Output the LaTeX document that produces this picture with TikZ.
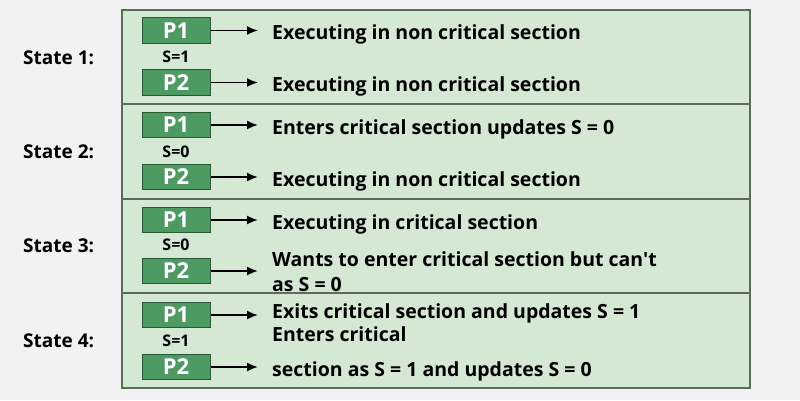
\documentclass[tikz,border=0pt]{standalone}
\usepackage{fontspec}
\setmainfont{Open Sans}[Ligatures=TeXOff]
\usetikzlibrary{arrows.meta}
\definecolor{pagebg}{HTML}{F2F2F2}
\definecolor{panelfill}{HTML}{D5E8D4}
\definecolor{panelline}{HTML}{5E6B5C}
\definecolor{procfill}{HTML}{4E9A63}
\definecolor{procline}{HTML}{2A5A35}
\tikzset{
  proc/.style={draw=procline,fill=procfill,text=white,line width=1pt,minimum width=68pt,minimum height=25.5pt,inner sep=0pt,font=\bfseries\fontsize{22}{24}\selectfont},
  sem/.style={inner sep=0pt,font=\bfseries\fontsize{16}{18}\selectfont},
  state/.style={anchor=west,inner sep=0pt,font=\bfseries\fontsize{19}{22}\selectfont},
  desc/.style={anchor=west,inner sep=0pt,text height=14pt,text depth=0pt,font=\bfseries\fontsize{19.5}{24}\selectfont},
  descm/.style={anchor=west,align=left,inner sep=0pt,font=\bfseries\fontsize{19.5}{#1}\selectfont},
  go/.style={-{Latex[length=11pt,width=9pt]},line width=1.8pt,shorten >=14pt}
}
\begin{document}
\begin{tikzpicture}[x=1pt,y=-1pt]
\fill[pagebg](0,0)rectangle(800,400);
\useasboundingbox(0,0)rectangle(800,400);
\draw[panelline,fill=panelfill,line width=2pt](122,10)rectangle(750,388);
\draw[panelline,line width=2pt](122,104)--(750,104);
\draw[panelline,line width=2pt](122,199)--(750,199);
\draw[panelline,line width=2pt](122,293)--(750,293);

\begin{scope}
\node[state](st1) at (23,57.5){State 1:};
\node[proc](p1a) at (176,30.5){P1};
\node[sem](sa) at (176,57){S=1};
\node[proc](p2a) at (176,82.5){P2};
\node[desc](d1a) at (272,32){Executing in non critical section};
\node[desc](d2a) at (272,84){Executing in non critical section};
\draw[go](p1a.east)--(p1a.east-|d1a.west);
\draw[go](p2a.east)--(p2a.east-|d2a.west);
\end{scope}

\begin{scope}[yshift=-94pt]
\node[state](st2) at (23,57.5){State 2:};
\node[proc](p1b) at (176,31){P1};
\node[sem](sb) at (176,58){S=0};
\node[proc](p2b) at (176,83){P2};
\node[desc](d1b) at (272,33){Enters critical section updates S = 0};
\node[desc](d2b) at (272,85){Executing in non critical section};
\draw[go](p1b.east)--(p1b.east-|d1b.west);
\draw[go](p2b.east)--(p2b.east-|d2b.west);
\end{scope}

\begin{scope}[yshift=-189pt]
\node[state](st3) at (23,57){State 3:};
\node[proc](p1c) at (176,31){P1};
\node[sem](sc) at (176,56){S=0};
\node[proc](p2c) at (176,82){P2};
\node[desc](d1c) at (272,33){Executing in critical section};
\node[descm=25](d2c) at (272,82.5){Wants to enter critical section but can't\\as S = 0};
\draw[go](p1c.east)--(p1c.east-|d1c.west);
\draw[go](p2c.east)--(p2c.east-|d2c.west);
\end{scope}

\begin{scope}[yshift=-283pt]
\node[state](st4) at (23,58){State 4:};
\node[proc](p1d) at (176,32){P1};
\node[sem](sd) at (176,58){S=1};
\node[proc](p2d) at (176,84){P2};
\node[descm=23](d1d) at (272,39.5){Exits critical section and updates S = 1\\Enters critical};
\node[desc](d2d) at (272,86){section as S = 1 and updates S = 0};
\draw[go](p1d.east)--(p1d.east-|d1d.west);
\draw[go](p2d.east)--(p2d.east-|d2d.west);
\end{scope}
\end{tikzpicture}
\end{document}
